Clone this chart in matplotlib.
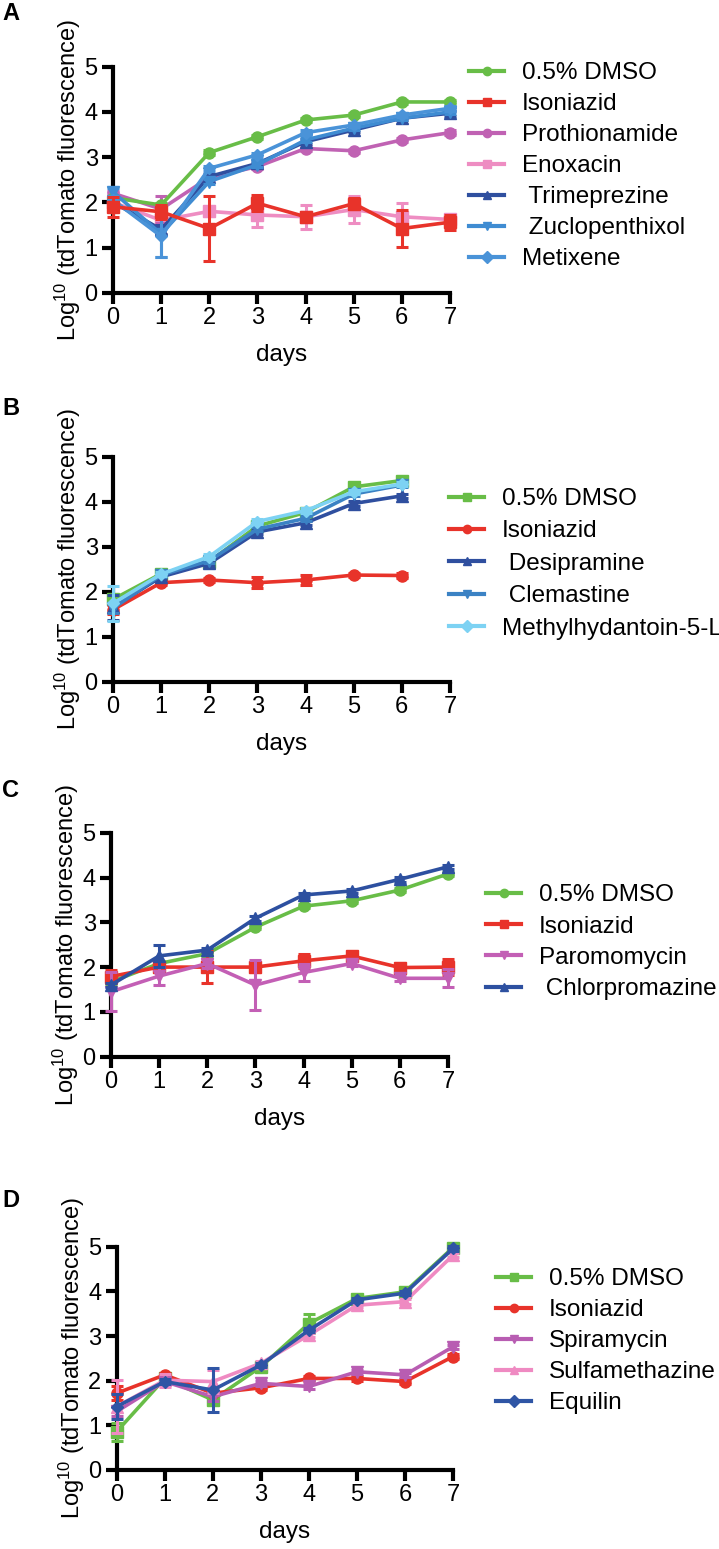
import matplotlib
matplotlib.use("Agg")
import matplotlib.pyplot as plt
from matplotlib.lines import Line2D

plt.rcParams['font.family'] = ['Liberation Sans', 'DejaVu Sans']
plt.rcParams['mathtext.default'] = 'regular'

# ---------------- data ----------------
days = [0, 1, 2, 3, 4, 5, 6, 7]
days_b = [0, 1, 2, 3, 4, 5, 6]

# Panel A
A_labels = ['0.5% DMSO', 'Isoniazid', 'Prothionamide', 'Enoxacin',
            ' Trimeprezine', ' Zuclopenthixol', 'Metixene']
A_dmso = [2.10, 1.94, 3.10, 3.45, 3.82, 3.93, 4.22, 4.22]
A_dmso_err = [0.05, 0.05, 0.05, 0.05, 0.05, 0.05, 0.05, 0.05]
A_inh = [1.90, 1.79, 1.42, 1.98, 1.68, 1.97, 1.42, 1.56]
A_inh_err = [0.22, 0.15, 0.72, 0.18, 0.10, 0.12, 0.40, 0.17]
A_proth = [2.20, 1.85, 2.55, 2.79, 3.19, 3.14, 3.38, 3.54]
A_proth_err = [0.05, 0.30, 0.05, 0.05, 0.05, 0.05, 0.05, 0.05]
A_enox = [2.00, 1.60, 1.80, 1.72, 1.68, 1.84, 1.68, 1.62]
A_enox_err = [0.10, 0.10, 0.10, 0.27, 0.27, 0.30, 0.30, 0.08]
A_trim = [2.00, 1.40, 2.57, 2.86, 3.34, 3.60, 3.86, 3.97]
A_trim_err = [0.05, 0.10, 0.05, 0.05, 0.05, 0.05, 0.05, 0.05]
A_zucl = [2.23, 1.30, 2.46, 2.83, 3.38, 3.64, 3.86, 4.00]
A_zucl_err = [0.08, 0.50, 0.05, 0.05, 0.05, 0.05, 0.05, 0.05]
A_metx = [2.05, 1.25, 2.75, 3.05, 3.54, 3.71, 3.93, 4.08]
A_metx_err = [0.08, 0.45, 0.05, 0.05, 0.05, 0.05, 0.05, 0.05]

# Panel B
B_labels = ['0.5% DMSO', 'Isoniazid', ' Desipramine', ' Clemastine',
            'Methylhydantoin-5-L']
B_dmso = [1.83, 2.40, 2.67, 3.46, 3.76, 4.33, 4.47]
B_dmso_err = [0.05, 0.05, 0.05, 0.05, 0.05, 0.05, 0.05]
B_inh = [1.60, 2.20, 2.26, 2.20, 2.26, 2.37, 2.36]
B_inh_err = [0.10, 0.05, 0.05, 0.12, 0.12, 0.05, 0.05]
B_desi = [1.65, 2.33, 2.63, 3.33, 3.53, 3.96, 4.13]
B_desi_err = [0.27, 0.05, 0.05, 0.05, 0.05, 0.05, 0.05]
B_clem = [1.63, 2.37, 2.69, 3.39, 3.63, 4.17, 4.37]
B_clem_err = [0.10, 0.05, 0.05, 0.05, 0.05, 0.05, 0.05]
B_meth = [1.74, 2.39, 2.78, 3.56, 3.80, 4.22, 4.39]
B_meth_err = [0.38, 0.05, 0.05, 0.05, 0.05, 0.05, 0.05]

# Panel C
C_labels = ['0.5% DMSO', 'Isoniazid', 'Paromomycin', ' Chlorpromazine']
C_dmso = [1.67, 2.08, 2.30, 2.89, 3.36, 3.48, 3.72, 4.08]
C_dmso_err = [0.05, 0.05, 0.05, 0.05, 0.05, 0.05, 0.05, 0.05]
C_inh = [1.79, 2.00, 2.00, 2.00, 2.14, 2.25, 1.99, 2.00]
C_inh_err = [0.15, 0.10, 0.35, 0.10, 0.15, 0.08, 0.10, 0.17]
C_paro = [1.45, 1.80, 2.08, 1.60, 1.88, 2.08, 1.75, 1.75]
C_paro_err = [0.43, 0.20, 0.10, 0.55, 0.20, 0.05, 0.05, 0.20]
C_chlo = [1.60, 2.25, 2.38, 3.09, 3.61, 3.70, 3.96, 4.24]
C_chlo_err = [0.05, 0.24, 0.05, 0.05, 0.05, 0.05, 0.05, 0.05]

# Panel D
D_labels = ['0.5% DMSO', 'Isoniazid', 'Spiramycin', 'Sulfamethazine', 'Equilin']
D_dmso = [0.86, 2.05, 1.57, 2.31, 3.28, 3.84, 3.99, 4.98]
D_dmso_err = [0.20, 0.05, 0.10, 0.05, 0.22, 0.05, 0.05, 0.05]
D_inh = [1.72, 2.13, 1.72, 1.84, 2.05, 2.05, 1.98, 2.54]
D_inh_err = [0.15, 0.05, 0.05, 0.05, 0.05, 0.05, 0.05, 0.05]
D_spir = [1.31, 1.98, 1.64, 1.94, 1.87, 2.20, 2.13, 2.76]
D_spir_err = [0.10, 0.05, 0.10, 0.05, 0.05, 0.05, 0.05, 0.05]
D_sulf = [1.42, 2.01, 1.98, 2.39, 3.02, 3.69, 3.77, 4.81]
D_sulf_err = [0.60, 0.15, 0.25, 0.05, 0.05, 0.05, 0.05, 0.05]
D_equi = [1.42, 1.98, 1.79, 2.35, 3.13, 3.81, 3.96, 4.96]
D_equi_err = [0.28, 0.05, 0.50, 0.05, 0.05, 0.05, 0.05, 0.05]

# ---------------- style ----------------
GREEN = '#68bd47'
RED = '#e8332a'
PURPLE = '#c062b3'
PINK = '#ee8dc2'
NAVY = '#2f4f9f'
BLUE = '#3f8cd2'
BLUE2 = '#4a93d8'
LIGHTBLUE = '#7dd2f3'

W, H = 719, 1549
fig = plt.figure(figsize=(W / 100, H / 100), dpi=100)


def px_axes(x0, x1, y5, y0):
    return fig.add_axes([x0 / W, (H - y0) / H, (x1 - x0) / W, (y0 - y5) / H])


def style_axes(ax):
    ax.set_xlim(0, 7)
    ax.set_ylim(0, 5)
    for s in ['top', 'right']:
        ax.spines[s].set_visible(False)
    for s in ['left', 'bottom']:
        ax.spines[s].set_linewidth(3.0)
        ax.spines[s].set_capstyle('projecting')
    ax.set_xticks(days)
    ax.set_yticks([0, 1, 2, 3, 4, 5])
    ax.tick_params(width=3.0, length=8, labelsize=17)
    ax.tick_params(axis='x', pad=2)
    ax.tick_params(axis='y', pad=3)
    ax.set_ylabel(r'Log$^{10}$ (tdTomato fluorescence)', fontsize=17, labelpad=1)
    ax.set_xlabel('days', fontsize=17.5, labelpad=11)


def series(ax, x, y, e, color, marker, ms, z):
    ax.errorbar(x, y, yerr=e, color=color, marker=marker, ms=ms, lw=2.6,
                elinewidth=2.2, capsize=4.5, capthick=2.2, clip_on=False, zorder=z)


def legend(labels, colors, markers, x, ytop, spacing):
    handles = [Line2D([0], [0], color=c, marker=m, lw=3, ms=6) for c, m in zip(colors, markers)]
    fig.legend(handles, labels, loc='upper left',
               bbox_to_anchor=(x / W, (H - ytop) / H), bbox_transform=fig.transFigure,
               frameon=False, fontsize=17.5, handlelength=1.45, handletextpad=0.72,
               borderpad=0, borderaxespad=0, labelspacing=spacing)


def letter(t, y):
    fig.text(2 / W, 1 - y / H, t, fontsize=17, fontweight='bold', va='top', ha='left')


# Panel A
ax = px_axes(113, 450, 66.7, 292.7)
A_vals = [A_dmso, A_inh, A_proth, A_enox, A_trim, A_zucl, A_metx]
A_errs = [A_dmso_err, A_inh_err, A_proth_err, A_enox_err, A_trim_err, A_zucl_err, A_metx_err]
A_colors = [GREEN, RED, PURPLE, PINK, NAVY, BLUE, BLUE2]
A_markers = ['o', 's', 'o', 's', '^', 'v', 'D']
A_sizes = [8, 8, 8, 8, 8, 8, 6]
A_z = [5, 9, 4, 3, 6, 7, 8]
for v, e, c, m, s, z in zip(A_vals, A_errs, A_colors, A_markers, A_sizes, A_z):
    series(ax, days, v, e, c, m, s, z)
style_axes(ax)
legend(A_labels, A_colors, A_markers, 469, 62, 0.37)
letter('A', 2)

# Panel B
ax = px_axes(113, 450, 456.7, 681.7)
B_vals = [B_dmso, B_inh, B_desi, B_clem, B_meth]
B_errs = [B_dmso_err, B_inh_err, B_desi_err, B_clem_err, B_meth_err]
B_colors = [GREEN, RED, NAVY, '#3b82c4', LIGHTBLUE]
B_markers = ['s', 'o', '^', 'v', 'D']
B_sizes = [8, 8, 8, 8, 6]
for i, (v, e, c, m, s) in enumerate(zip(B_vals, B_errs, B_colors, B_markers, B_sizes)):
    series(ax, days_b, v, e, c, m, s, 3 + i)
style_axes(ax)
legend(B_labels, B_colors, B_markers, 449, 488, 0.43)
letter('B', 397)

# Panel C
ax = px_axes(111, 448, 832.7, 1056.7)
C_vals = [C_dmso, C_inh, C_paro, C_chlo]
C_errs = [C_dmso_err, C_inh_err, C_paro_err, C_chlo_err]
C_colors = [GREEN, RED, '#c35fb5', '#2d50a0']
C_markers = ['o', 's', 'v', '^']
for i, (v, e, c, m) in enumerate(zip(C_vals, C_errs, C_colors, C_markers)):
    series(ax, days, v, e, c, m, 8, 3 + i)
style_axes(ax)
legend(C_labels, C_colors, C_markers, 486, 884, 0.39)
letter('C', 779)

# Panel D
ax = px_axes(116.7, 453, 1246.7, 1470)
D_vals = [D_dmso, D_inh, D_spir, D_sulf, D_equi]
D_errs = [D_dmso_err, D_inh_err, D_spir_err, D_sulf_err, D_equi_err]
D_colors = [GREEN, RED, '#b85db2', '#ef8ac2', '#2f55a5']
D_markers = ['s', 'o', 'v', '^', 'D']
D_sizes = [8, 8, 8, 8, 6]
for i, (v, e, c, m, s) in enumerate(zip(D_vals, D_errs, D_colors, D_markers, D_sizes)):
    series(ax, days, v, e, c, m, s, 3 + i)
style_axes(ax)
legend(D_labels, D_colors, D_markers, 496, 1268, 0.37)
letter('D', 1189)

fig.savefig('out.png', dpi=100)
